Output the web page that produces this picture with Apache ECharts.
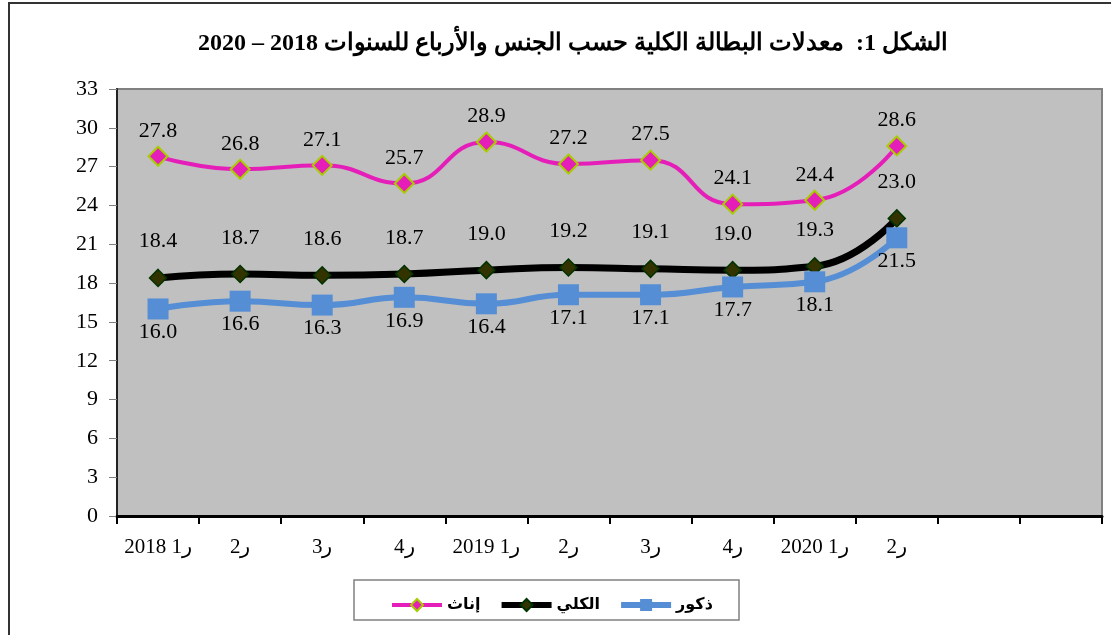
<!DOCTYPE html>
<html>
<head>
<meta charset="utf-8">
<script src="https://cdn.jsdelivr.net/npm/echarts@6/dist/echarts.min.js"></script>
<style>html,body{margin:0;padding:0;background:#fff;}#c{width:1111px;height:635px;}</style>
</head>
<body>
<div id="c"></div>
<script>
const titleText = 'الشكل 1:  معدلات البطالة الكلية حسب الجنس والأرباع للسنوات 2018 – 2020';
const categories = ['ر1 2018', 'ر2', 'ر3', 'ر4', 'ر1 2019', 'ر2', 'ر3', 'ر4', 'ر1 2020', 'ر2', '', ''];
const seriesNames = ['إناث', 'الكلي', 'ذكور'];
const females = [27.8, 26.8, 27.1, 25.7, 28.9, 27.2, 27.5, 24.1, 24.4, 28.6];
const total = [18.4, 18.7, 18.6, 18.7, 19.0, 19.2, 19.1, 19.0, 19.3, 23.0];
const males = [16.0, 16.6, 16.3, 16.9, 16.4, 17.1, 17.1, 17.7, 18.1, 21.5];
const yMin = 0, yMax = 33, yStep = 3;

const serif = '"Liberation Serif", "DejaVu Serif", serif';
const sans = '"Liberation Sans", "DejaVu Sans", sans-serif';
const chart = echarts.init(document.getElementById('c'), null, {renderer: 'canvas'});
const fmt = p => p.value.toFixed(1);
chart.setOption({
  animation: false,
  backgroundColor: '#fff',
  title: {
    text: titleText, left: 568, top: 27, textAlign: 'center',
    textStyle: {fontFamily: serif, fontWeight: 'bold', fontSize: 24, color: '#000'}
  },
  graphic: [
    {type: 'rect', z: 100, silent: true, shape: {x: 9, y: 3, width: 1200, height: 700},
     style: {fill: null, stroke: '#333', lineWidth: 2}},
    {type: 'rect', z: 0, silent: true, shape: {x: 354, y: 580, width: 385, height: 40},
     style: {fill: '#fff', stroke: '#808080', lineWidth: 1.5}}
  ],
  legend: {
    left: 385, top: 592, itemWidth: 50, itemHeight: 15, itemGap: 18,
    data: [
      {name: seriesNames[0], lineStyle: {width: 4}},
      {name: seriesNames[1], lineStyle: {width: 6}},
      {name: seriesNames[2], lineStyle: {width: 6}}
    ],
    textStyle: {fontFamily: sans, fontWeight: 'bold', fontSize: 16, color: '#000'}
  },
  grid: {left: 117, right: 9, top: 89, bottom: 119, show: true, backgroundColor: '#C0C0C0', borderColor: '#808080', borderWidth: 2},
  xAxis: {
    type: 'category', data: categories, boundaryGap: true,
    axisLine: {lineStyle: {color: '#000', width: 3}},
    axisTick: {show: true, length: 8, lineStyle: {color: '#000', width: 2}, interval: 0},
    axisLabel: {interval: 0, margin: 21, fontFamily: serif, fontSize: 21, color: '#000'}
  },
  yAxis: {
    type: 'value', min: yMin, max: yMax, interval: yStep,
    axisLine: {show: true, lineStyle: {color: '#222', width: 2}},
    axisTick: {show: true, length: 8, lineStyle: {color: '#808080', width: 1}},
    splitLine: {show: false},
    axisLabel: {margin: 19, fontFamily: serif, fontSize: 22, color: '#000'}
  },
  series: [
    {name: seriesNames[0], type: 'line', data: females, smooth: 0.5,
     symbol: 'diamond', symbolSize: 19,
     lineStyle: {color: '#E61EB9', width: 4},
     itemStyle: {color: '#E61EB9', borderColor: '#A8CC00', borderWidth: 2},
     label: {show: true, position: 'top', distance: 4, formatter: fmt, fontFamily: serif, fontSize: 22, color: '#000'}},
    {name: seriesNames[1], type: 'line', data: total, smooth: 0.5,
     symbol: 'diamond', symbolSize: 17,
     lineStyle: {color: '#000', width: 7},
     itemStyle: {color: '#333300', borderColor: '#003300', borderWidth: 1.5},
     label: {show: true, position: 'top', distance: 16, formatter: fmt, fontFamily: serif, fontSize: 22, color: '#000'}},
    {name: seriesNames[2], type: 'line', data: males, smooth: 0.5,
     symbol: 'rect', symbolSize: 21,
     lineStyle: {color: '#558ED5', width: 6},
     itemStyle: {color: '#558ED5', borderColor: '#558ED5', borderWidth: 0},
     label: {show: true, position: 'bottom', distance: 2, formatter: fmt, fontFamily: serif, fontSize: 22, color: '#000'}}
  ]
});
</script>
</body>
</html>
